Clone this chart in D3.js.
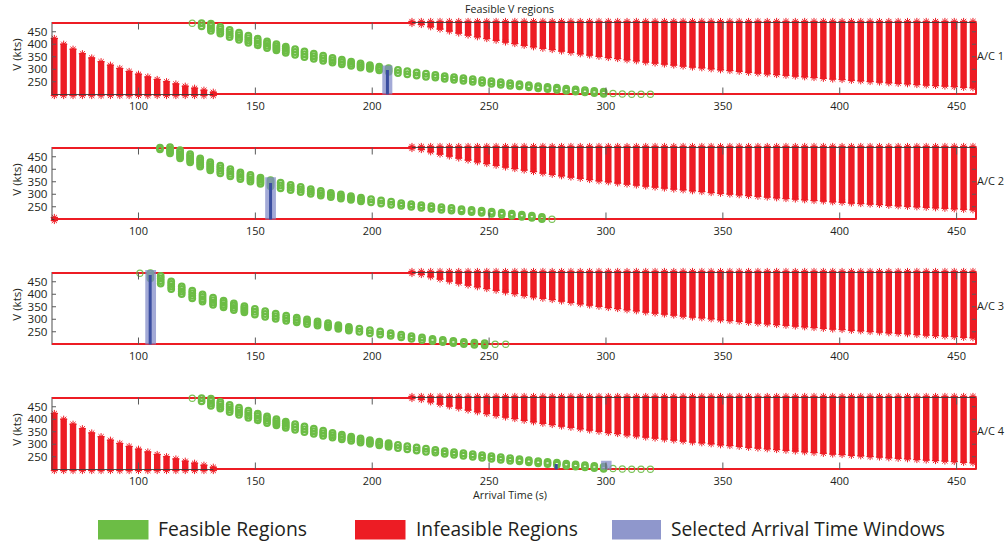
<!DOCTYPE html>
<html>
<head>
<meta charset="utf-8">
<script src="https://cdn.jsdelivr.net/npm/d3@7"></script>
<style>
  body { margin: 0; background: #fff; }
  svg { display: block; }
  text { font-family: "Open Sans", "Noto Sans", sans-serif; fill: #231f20; }
</style>
</head>
<body>
<svg id="chart" width="1007" height="546"></svg>
<script>
// ---- axes ----
const timeDomain = [63, 458.3];
const speedDomain = [199, 487];
const timeTicks = [100, 150, 200, 250, 300, 350, 400, 450];
const speedTicks = [250, 300, 350, 400, 450];
const aircraftNames = ["A/C 1", "A/C 2", "A/C 3", "A/C 4"];

// ---- infeasible: too-early arrivals (speed ceiling per arrival time) ----
const earlyTimesA = [64, 68, 72, 76, 80, 84, 88, 92, 96, 100, 104, 108, 112, 116, 120, 124, 128, 132];
const earlyCeilA  = [419, 396, 376, 358, 341, 326, 312, 299, 287, 276, 265, 255, 246, 237, 228, 220, 212, 204];
const earlyTimesB = [64];
const earlyCeilB  = [203];
const earlyTimesC = [];
const earlyCeilC  = [];

// ---- infeasible: late arrivals (speed floor per arrival time) ----
const lateTimes = [217, 221, 225, 229, 233, 237, 241, 245, 249, 253,
                   257, 261, 265, 269, 273, 277, 281, 285, 289, 293,
                   297, 301, 305, 309, 313, 317, 321, 325, 329, 333,
                   337, 341, 345, 349, 353, 357, 361, 365, 369, 373,
                   377, 381, 385, 389, 393, 397, 401, 405, 409, 413,
                   417, 421, 425, 429, 433, 437, 441, 445, 449, 453, 457];
const lateFloorA = [487, 483, 474, 465, 457, 449, 441, 434, 427, 420,
                    413, 407, 400, 394, 388, 383, 377, 372, 366, 361,
                    356, 351, 347, 342, 338, 333, 329, 325, 321, 317,
                    313, 310, 306, 302, 299, 296, 292, 289, 286, 283,
                    280, 277, 274, 271, 268, 265, 263, 260, 258, 255,
                    253, 250, 248, 246, 243, 241, 239, 237, 235, 232, 230];
const lateFloorB = [487, 483, 474, 465, 457, 449, 441, 434, 427, 420,
                    413, 407, 401, 395, 389, 384, 378, 373, 368, 363,
                    358, 354, 349, 345, 341, 337, 333, 329, 325, 322,
                    318, 315, 311, 308, 305, 302, 299, 296, 293, 290,
                    287, 285, 282, 279, 277, 274, 272, 269, 267, 265,
                    263, 260, 258, 256, 254, 252, 250, 248, 246, 244, 242];

// ---- feasible: arrival time, centre speed, half speed range ----
const feasTimeA = [123, 127, 131, 135, 139, 143, 147, 151, 155, 159,
                   163, 167, 171, 175, 179, 183, 187, 191, 195, 199,
                   203, 207, 211, 215, 219, 223, 227, 231, 235, 239,
                   243, 247, 251, 255, 259, 263, 267, 271, 275, 279,
                   283, 287, 291, 295, 299, 303, 307, 311, 315, 319];
const feasSpeedA = [484, 478, 468, 456, 443, 432, 420, 409, 398, 388,
                    378, 369, 360, 352, 344, 336, 329, 322, 315, 309,
                    303, 297, 291, 286, 281, 276, 272, 267, 263, 259,
                    255, 251, 247, 243, 239, 236, 232, 228, 225, 222,
                    218, 215, 212, 209, 206, 203, 201, 200, 200, 200];
const feasHalfA = [0, 6, 14, 13, 14, 14, 14, 13, 13, 12,
                   12, 11, 11, 10, 10, 9, 9, 8, 8, 7,
                   7, 7, 6, 6, 6, 6, 5, 5, 5, 5,
                   5, 5, 5, 5, 5, 4, 4, 4, 4, 4,
                   4, 4, 4, 4, 4, 0, 0, 0, 0, 0];

const feasTimeB = [109.2, 113.5, 117.8, 122.1, 126.4, 130.7, 135.0, 139.3, 143.6, 147.9,
                   152.2, 156.5, 160.8, 165.1, 169.4, 173.7, 178.0, 182.3, 186.6, 190.9,
                   195.2, 199.5, 203.8, 208.1, 212.4, 216.7, 221.0, 225.3, 229.6, 233.9,
                   238.2, 242.5, 246.8, 251.1, 255.4, 259.7, 264.0, 268.3, 272.6, 276.9];
const feasSpeedB = [483, 476, 460, 444, 427, 412, 399, 386, 374, 364,
                    354, 344, 335, 327, 319, 311, 304, 297, 291, 285,
                    279, 274, 269, 264, 259, 255, 251, 247, 243, 240,
                    236, 233, 230, 226, 222, 218, 214, 210, 205, 200];
const feasHalfB = [3, 12, 16, 16, 16, 16, 15, 14, 13, 13,
                   12, 12, 11, 10, 10, 9, 9, 8, 8, 7,
                   7, 6, 6, 6, 5, 5, 5, 5, 5, 5,
                   4, 4, 4, 4, 4, 4, 4, 4, 4, 0];

const feasTimeC = [100.6, 105.1, 109.5, 114.0, 118.5, 123.0, 127.4, 131.9, 136.4, 140.8,
                   145.3, 149.8, 154.2, 158.7, 163.2, 167.7, 172.1, 176.6, 181.1, 185.5,
                   190.0, 194.5, 199.0, 203.4, 207.9, 212.4, 216.8, 221.3, 225.8, 230.2,
                   234.7, 239.2, 243.7, 248.1, 252.6, 257.1];
const feasSpeedC = [484, 474, 458, 436, 416, 399, 385, 372, 361, 350,
                    340, 330, 321, 312, 304, 297, 290, 283, 276, 269,
                    262, 256, 250, 245, 239, 233, 227, 222, 217, 213,
                    209, 205, 202, 200, 200, 200];
const feasHalfC = [0, 10, 15, 15, 15, 15, 14, 14, 13, 13,
                   12, 11, 11, 10, 10, 9, 9, 8, 8, 7,
                   7, 6, 6, 6, 5, 5, 5, 5, 4, 4,
                   4, 4, 4, 4, 0, 0];

// ---- selected arrival time windows: [t start, t end, top speed] and [t, speed] ----
const windowSpan = [[[204.3, 208.6, 315]], [[154.2, 158.8, 368]], [[102.9, 107.5, 497]], [[297.9, 302.4, 234]]];
const windowPick = [[[206.5, 297]], [[156.5, 345]], [[105.0, 477]], [[278.7, 221]]];

const legendLabels = ["Feasible Regions", "Infeasible Regions", "Selected Arrival Time Windows"];

// ---- per-aircraft assembly ----
const aircraft = [
  { earlyT: earlyTimesA, earlyCeil: earlyCeilA, lateFloor: lateFloorA, fT: feasTimeA, fV: feasSpeedA, fH: feasHalfA },
  { earlyT: earlyTimesB, earlyCeil: earlyCeilB, lateFloor: lateFloorB, fT: feasTimeB, fV: feasSpeedB, fH: feasHalfB },
  { earlyT: earlyTimesC, earlyCeil: earlyCeilC, lateFloor: lateFloorA, fT: feasTimeC, fV: feasSpeedC, fH: feasHalfC },
  { earlyT: earlyTimesA, earlyCeil: earlyCeilA, lateFloor: lateFloorA, fT: feasTimeA, fV: feasSpeedA, fH: feasHalfA }
];

const RED = "#ed1c24", GREEN = "#6cbd45", BLUE_LIGHT = "#7f89c8", BLUE_DARK = "#3a4d9f", AXIS = "#3a3a3a", TICK = "#5a5a5a";

const svg = d3.select("#chart");
svg.append("rect").attr("width", 1007).attr("height", 546).attr("fill", "#fff");

const x = d3.scaleLinear().domain(timeDomain).range([52, 976]);
const panelH = 72;

function asterisk(cx, cy, r) {
  const d = r * 0.72;
  return `M${cx - r},${cy}H${cx + r}M${cx},${cy - r}V${cy + r}` +
         `M${cx - d},${cy - d}L${cx + d},${cy + d}M${cx - d},${cy + d}L${cx + d},${cy - d}`;
}

aircraft.forEach((ac, i) => {
  const top = 22.5 + 125 * i, bottom = top + panelH;
  const y = d3.scaleLinear().domain(speedDomain).range([bottom, top]);
  const g = svg.append("g");

  // infeasible speed bars
  const bars = [];
  ac.earlyT.forEach((t, j) => bars.push({ t, lo: speedDomain[0], hi: ac.earlyCeil[j] }));
  lateTimes.forEach((t, j) => bars.push({ t, lo: ac.lateFloor[j], hi: speedDomain[1] }));

  g.append("g").selectAll("rect").data(bars).join("rect")
    .attr("x", d => x(d.t) - 3.2).attr("width", 6.4)
    .attr("y", d => y(d.hi) - 1.8)
    .attr("height", d => Math.max(0, y(d.lo) - y(d.hi)) + 3.6)
    .attr("fill", RED);
  g.append("path")
    .attr("d", bars.map(d => asterisk(x(d.t), y(d.hi) - 1, 3.6) + asterisk(x(d.t), y(d.lo) + 1, 3.6)).join(""))
    .attr("stroke", RED).attr("stroke-width", 1).attr("fill", "none");

  // axes box
  g.append("rect").attr("x", 52).attr("y", top).attr("width", 924).attr("height", panelH)
    .attr("fill", "none").attr("stroke", AXIS).attr("stroke-width", 0.9);

  // feasible-region boundary lines
  const lineStart = ac.earlyT.length ? ac.earlyT[ac.earlyT.length - 1] : timeDomain[0];
  g.append("line").attr("x1", x(timeDomain[0])).attr("x2", x(lateTimes[0]))
    .attr("y1", y(speedDomain[1]) + 0.4).attr("y2", y(speedDomain[1]) + 0.4)
    .attr("stroke", RED).attr("stroke-width", 2);
  g.append("line").attr("x1", x(lineStart)).attr("x2", x(timeDomain[1]))
    .attr("y1", y(speedDomain[0]) - 0.4).attr("y2", y(speedDomain[0]) - 0.4)
    .attr("stroke", RED).attr("stroke-width", 2);
  g.append("line").attr("x1", x(timeDomain[1])).attr("x2", x(timeDomain[1]))
    .attr("y1", top).attr("y2", bottom)
    .attr("stroke", RED).attr("stroke-width", 2);

  // feasible speeds: stacked circle markers
  const circles = [];
  ac.fT.forEach((t, j) => {
    const v = ac.fV[j], h = ac.fH[j];
    if (h <= 0) { circles.push({ t, v, open: true }); return; }
    const n = Math.max(2, 1 + Math.round((2 * h) / 9));
    for (let k = 0; k < n; k++) circles.push({ t, v: v - h + (2 * h * k) / (n - 1), open: false });
  });
  g.append("g").selectAll("circle").data(circles).join("circle")
    .attr("cx", d => x(d.t)).attr("cy", d => y(d.v))
    .attr("r", d => d.open ? 3.1 : 2.85)
    .attr("fill", "none").attr("stroke", GREEN)
    .attr("stroke-width", d => d.open ? 1.1 : 2.1)
    .attr("stroke-opacity", d => d.open ? 0.9 : 1);

  // selected arrival time windows
  g.append("g").selectAll("rect").data(windowSpan[i]).join("rect")
    .attr("x", d => x(d[0])).attr("width", d => x(d[1]) - x(d[0]))
    .attr("y", d => y(d[2])).attr("height", d => y(speedDomain[0]) - y(d[2]))
    .attr("fill", BLUE_LIGHT).attr("fill-opacity", 0.72);
  g.append("g").selectAll("rect").data(windowPick[i]).join("rect")
    .attr("x", d => x(d[0]) - 1.5).attr("width", 3)
    .attr("y", d => y(d[1])).attr("height", d => y(speedDomain[0]) - y(d[1]))
    .attr("fill", BLUE_DARK);

  // ticks
  const tk = g.append("g").attr("stroke", TICK).attr("stroke-width", 1);
  timeTicks.forEach(t => {
    tk.append("line").attr("x1", x(t)).attr("x2", x(t)).attr("y1", bottom).attr("y2", bottom - 7);
    tk.append("line").attr("x1", x(t)).attr("x2", x(t)).attr("y1", top).attr("y2", top + 7);
  });
  speedTicks.forEach(v => {
    tk.append("line").attr("x1", 52).attr("x2", 56).attr("y1", y(v)).attr("y2", y(v));
    tk.append("line").attr("x1", 976).attr("x2", 972).attr("y1", y(v)).attr("y2", y(v));
  });

  // tick labels
  g.append("g").selectAll("text").data(timeTicks).join("text")
    .attr("x", d => x(d)).attr("y", bottom + 15.5)
    .attr("text-anchor", "middle").attr("font-size", 11)
    .text(d => d);
  g.append("g").selectAll("text").data(speedTicks).join("text")
    .attr("x", 47.5).attr("y", d => y(d)).attr("dy", "0.35em")
    .attr("text-anchor", "end").attr("font-size", 11)
    .attr("textLength", 20).attr("lengthAdjust", "spacingAndGlyphs")
    .text(d => d);

  // axis title and aircraft label
  g.append("text")
    .attr("transform", `translate(21,${top + 32}) rotate(-90)`)
    .attr("text-anchor", "middle").attr("font-size", 11.5)
    .text("V (kts)");
  g.append("text").attr("x", 977).attr("y", top + 37.5)
    .attr("font-size", 11).text(aircraftNames[i]);
});

// chart title and time axis label
svg.append("text").attr("x", 509.5).attr("y", 12.5).attr("text-anchor", "middle")
  .attr("font-size", 11.5).attr("textLength", 89).attr("lengthAdjust", "spacingAndGlyphs")
  .text("Feasible V regions");
svg.append("text").attr("x", 510).attr("y", 498.5).attr("text-anchor", "middle")
  .attr("font-size", 11.5).attr("textLength", 74).attr("lengthAdjust", "spacingAndGlyphs")
  .text("Arrival Time (s)");

// legend
const legend = [
  { color: GREEN, x0: 98, x1: 148.5, tx: 158, tw: 149 },
  { color: RED, x0: 355, x1: 405.5, tx: 416, tw: 162 },
  { color: "#8f97cc", x0: 612, x1: 661, tx: 671, tw: 274 }
];
legend.forEach((d, k) => {
  svg.append("rect").attr("x", d.x0).attr("y", 520).attr("width", d.x1 - d.x0).attr("height", 19.5)
    .attr("fill", d.color);
  svg.append("text").attr("x", d.tx).attr("y", 536).attr("font-size", 20)
    .attr("textLength", d.tw).attr("lengthAdjust", "spacingAndGlyphs")
    .text(legendLabels[k]);
});
</script>
</body>
</html>
